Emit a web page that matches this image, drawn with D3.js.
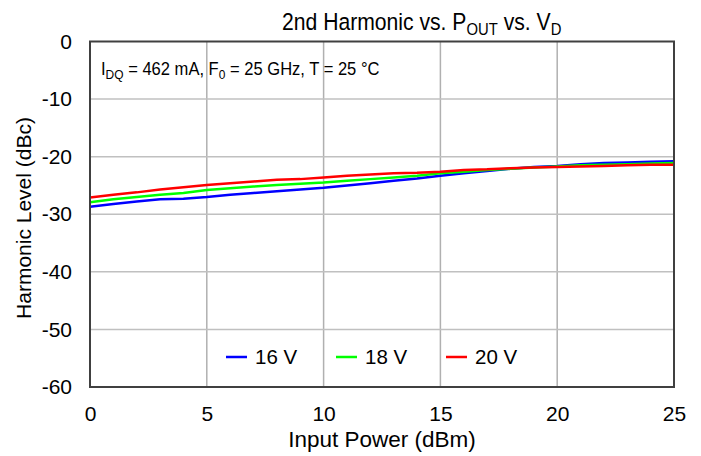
<!DOCTYPE html>
<html><head><meta charset="utf-8">
<script src="https://cdn.jsdelivr.net/npm/d3@7"></script>
<style>body{margin:0;background:#fff}svg{display:block}text{font-family:"Liberation Sans",Arial,sans-serif;fill:#000}</style>
</head><body><svg id="c" width="701" height="456"></svg>
<script>
const inputPower = d3.range(0, 26);
const v16 = [-28.7,-28.2,-27.8,-27.4,-27.3,-27.0,-26.6,-26.3,-26.0,-25.7,-25.4,-25.0,-24.6,-24.2,-23.8,-23.3,-22.9,-22.5,-22.1,-21.8,-21.6,-21.3,-21.1,-21.0,-20.9,-20.8];
const v18 = [-27.9,-27.4,-27.0,-26.6,-26.3,-25.8,-25.5,-25.2,-24.9,-24.7,-24.5,-24.2,-23.9,-23.6,-23.3,-22.9,-22.6,-22.3,-22.1,-21.9,-21.7,-21.5,-21.4,-21.3,-21.2,-21.1];
const v20 = [-27.1,-26.6,-26.2,-25.7,-25.3,-24.9,-24.6,-24.3,-24.0,-23.9,-23.6,-23.3,-23.1,-22.9,-22.8,-22.6,-22.3,-22.2,-22.0,-21.9,-21.8,-21.7,-21.6,-21.5,-21.4,-21.4];
const seriesNames = ["16 V","18 V","20 V"];
const seriesColors = ["#0000ff","#00ff00","#ff0000"];
const xTicks = [0,5,10,15,20,25];
const yTicks = [0,-10,-20,-30,-40,-50,-60];

const svg = d3.select("#c");
const L=90, R=674, T=41.5, B=387;
const x = d3.scaleLinear().domain([0,25]).range([L,R]);
const y = d3.scaleLinear().domain([-60,0]).range([B,T]);
const FONT = "Liberation Sans, Arial, sans-serif";

// grid
const g = svg.append("g");
g.selectAll("line.gx").data(xTicks.slice(1,-1)).join("line")
 .attr("x1",d=>x(d)).attr("x2",d=>x(d)).attr("y1",T).attr("y2",B)
 .attr("stroke","#b0b0b0").attr("stroke-width",1.5);
g.selectAll("line.gy").data(yTicks.slice(1,-1)).join("line")
 .attr("y1",d=>y(d)).attr("y2",d=>y(d)).attr("x1",L).attr("x2",R)
 .attr("stroke","#c0c0c0").attr("stroke-width",1.5);

// axes labels via d3 axes
const fmt = d => String(d);
const xAxis = svg.append("g").attr("transform",`translate(0,${B})`)
 .call(d3.axisBottom(x).tickValues(xTicks).tickFormat(fmt).tickSize(0).tickPadding(19));
xAxis.select(".domain").remove();
xAxis.selectAll("text").style("font-size","21px").style("font-family",FONT).attr("fill","#000");
const yAxis = svg.append("g").attr("transform",`translate(${L},0)`)
 .call(d3.axisLeft(y).tickValues(yTicks).tickFormat(fmt).tickSize(0).tickPadding(18));
yAxis.select(".domain").remove();
yAxis.selectAll("text").style("font-size","21px").style("font-family",FONT).attr("fill","#000");

// lines
const series=[v16,v18,v20];
const line = d3.line().x((d,i)=>x(inputPower[i])).y(d=>y(d));
series.forEach((s,i)=>{
 svg.append("path").datum(s).attr("d",line).attr("fill","none")
  .attr("stroke",seriesColors[i]).attr("stroke-width",2.5);
});

// frame
svg.append("rect").attr("x",L).attr("y",T).attr("width",R-L).attr("height",B-T)
 .attr("fill","none").attr("stroke","#404040").attr("stroke-width",2);

// title (slightly condensed)
const t = svg.append("text").attr("transform","translate(282,30) scale(0.9,1)").style("font-size","23.5px");
t.append("tspan").text("2nd Harmonic vs. P");
t.append("tspan").attr("dy",5).style("font-size","16.5px").text("OUT");
t.append("tspan").attr("dy",-5).text(" vs. V");
t.append("tspan").attr("dy",5).style("font-size","16.5px").text("D");

// annotation
const a = svg.append("text").attr("transform","translate(101,75) scale(0.92,1)").style("font-size","18px");
a.append("tspan").text("I");
a.append("tspan").attr("dy",4).style("font-size","13px").text("DQ");
a.append("tspan").attr("dy",-4).text(" = 462 mA, F");
a.append("tspan").attr("dy",4).style("font-size","13px").text("0");
a.append("tspan").attr("dy",-4).text(" = 25 GHz, T = 25 °C");

// legend
const legX=[226,336,446];
seriesNames.forEach((n,i)=>{
 svg.append("line").attr("x1",legX[i]).attr("x2",legX[i]+21).attr("y1",357).attr("y2",357)
  .attr("stroke",seriesColors[i]).attr("stroke-width",2.5);
 svg.append("text").attr("x",legX[i]+29).attr("y",364).style("font-size","20.5px").text(n);
});

// axis titles
svg.append("text").attr("x",382).attr("y",447).attr("text-anchor","middle").style("font-size","22.5px").text("Input Power (dBm)");
svg.append("text").attr("transform","translate(31,218) rotate(-90)").attr("text-anchor","middle").style("font-size","21px").text("Harmonic Level (dBc)");
</script></body></html>
